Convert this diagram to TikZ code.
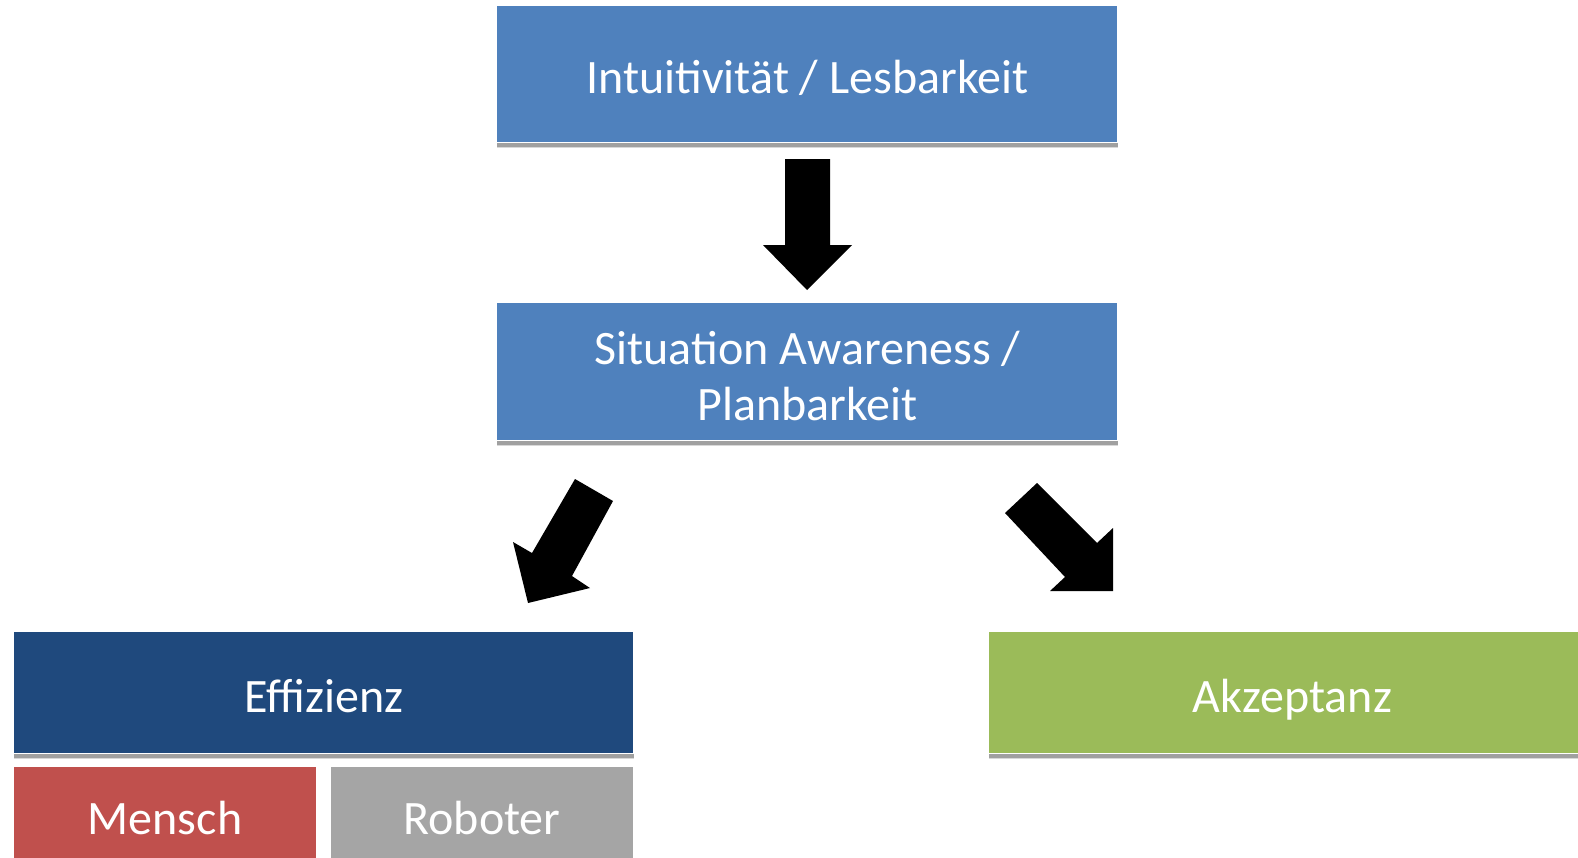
\documentclass[tikz,border=0pt]{standalone}
\usepackage{fontspec}
\setmainfont{Carlito}
\definecolor{boxblue}{HTML}{4F81BD}
\definecolor{darkblue}{HTML}{1F497D}
\definecolor{boxgreen}{HTML}{9BBB59}
\definecolor{boxred}{HTML}{C0504D}
\definecolor{boxgray}{HTML}{A5A5A5}
\definecolor{shadowgray}{HTML}{A0A0A0}
\definecolor{shadowlight}{HTML}{D8D8D8}
\tikzset{
  block/.style={inner sep=0pt, anchor=north west, draw=none},
  label/.style={inner sep=0pt, text=white, align=center,
    font=\fontsize{24}{28}\selectfont},
  bigarrow/.style={fill=black, draw=none},
}
% one pixel of the layout = 0.5pt, y axis pointing down
\newcommand{\shadedbox}[6]{%
  % #1 name, #2 x, #3 y, #4 width, #5 height (px), #6 fill colour
  \node[block, fill=#6, minimum width=#4*0.5pt, minimum height=#5*0.5pt] (#1) at (#2,#3) {};
  \fill[shadowlight] (#1.south west) rectangle ([yshift=-2.5pt]#1.south east);
  \fill[shadowgray] (#1.south west) rectangle ([yshift=-2pt]#1.south east);
}
\begin{document}
\begin{tikzpicture}[x=0.5pt,y=-0.5pt]
\useasboundingbox (0,0) rectangle (1578,857);

\shadedbox{top}{497}{6}{620}{136}{boxblue}
\node[label] at ([yshift=-1.5pt]top.center) {Intuitivität / Lesbarkeit};

\shadedbox{mid}{497}{303}{620}{137}{boxblue}
\node[label] at ([yshift=-2pt]mid.center) {Situation Awareness /\\Planbarkeit};

\shadedbox{eff}{14}{632}{619}{121}{darkblue}
\node[label] at ([yshift=-1.5pt]eff.center) {Effizienz};

\shadedbox{akz}{989}{632}{600}{121}{boxgreen}
\node[label] at ([xshift=1.5pt,yshift=-3.5pt]akz.center) {Akzeptanz};

\node[block, fill=boxred, minimum width=151pt, minimum height=50pt] (mensch) at (14,767) {};
\node[label] at (165,818) {Mensch};
\node[block, fill=boxgray, minimum width=151pt, minimum height=50pt] (roboter) at (331,767) {};
\node[label] at (482,818) {Roboter};

% block arrow pointing down
\fill[bigarrow] (785,159) -- (830,159) -- (830,245) -- (852,245) -- (807,290)
  -- (763,245) -- (785,245) -- cycle;

% block arrow towards the lower left
\fill[bigarrow] (575,479) -- (613,501) -- (572,576) -- (590,588) -- (528,603)
  -- (513,542) -- (532,553) -- cycle;

% block arrow towards the lower right
\fill[bigarrow] (1005,513) -- (1037,483) -- (1097,543) -- (1113,528) -- (1113,591)
  -- (1050,591) -- (1065,577) -- cycle;
\end{tikzpicture}
\end{document}
